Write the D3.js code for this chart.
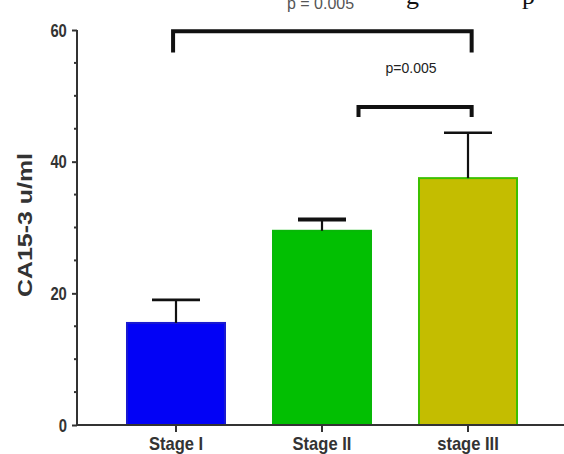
<!DOCTYPE html>
<html>
<head>
<meta charset="utf-8">
<script src="https://cdn.jsdelivr.net/npm/d3@7"></script>
<style>
  body { margin: 0; background: #fff; }
  svg { display: block; }
</style>
</head>
<body>
<svg id="chart" width="564" height="454"></svg>
<script>
// dati
var categories = ["Stage I", "Stage II", "stage III"];
var means = [15.5, 29.5, 37.5];
var errors = [3.5, 1.7, 6.9];
var barColors = ["#0202f6", "#02bf02", "#c4bd00"];
var barStrokes = ["#1a1ad0", "#08b808", "#3cc000"];
var yTicks = [0, 20, 40, 60];
var yMinorTicks = [5, 10, 15, 25, 30, 35, 45, 50, 55];

// parentesi di significativita: da, a, altezza, altezza dei bordi
var brackets = [
  { from: "Stage I", fromOff: -0.02, to: "stage III", toOff: 0.025, y: 59.8, yEnd: 56.6 },
  { from: "Stage II", fromOff: 0.25, to: "stage III", toOff: 0.025, y: 48.3, yEnd: 46.8 }
];
var pLabels = [
  { text: "p = 0.005", at: "Stage II", off: -0.01, y: 63.2, size: 16, color: "#555" },
  { text: "p=0.005", at: "stage III", off: -0.39, y: 53.4, size: 14, color: "#222" }
];

var svg = d3.select("#chart");

var x = d3.scaleBand()
  .domain(categories)
  .range([103, 541])
  .paddingInner(0.315)
  .paddingOuter(0.1575);

var y = d3.scaleLinear()
  .domain([0, 60])
  .range([425, 30]);

var cx = function (c) { return x(c) + x.bandwidth() / 2; };

// bar
svg.append("g")
  .selectAll("rect")
  .data(categories)
  .enter()
  .append("rect")
  .attr("x", function (d) { return x(d) + 1; })
  .attr("y", function (d, i) { return y(means[i]); })
  .attr("width", x.bandwidth() - 2)
  .attr("height", function (d, i) { return y(0) - y(means[i]); })
  .style("fill", function (d, i) { return barColors[i]; })
  .style("stroke", function (d, i) { return barStrokes[i]; })
  .style("stroke-width", 2);

// barre di errore (solo verso l'alto)
var err = svg.append("g").style("stroke", "#111").style("stroke-width", 2.2);
categories.forEach(function (c, i) {
  err.append("line")
    .attr("x1", cx(c)).attr("x2", cx(c))
    .attr("y1", y(means[i])).attr("y2", y(means[i] + errors[i]));
  err.append("line")
    .attr("x1", cx(c) - 24).attr("x2", cx(c) + 24)
    .attr("y1", y(means[i] + errors[i])).attr("y2", y(means[i] + errors[i]))
    .style("stroke-width", i == 1 ? 4 : 2.6);
});

// asse y
var yAxis = svg.append("g").attr("transform", "translate(77,0)");
yAxis.call(d3.axisLeft(y).tickValues(yTicks).tickSize(5).tickFormat(d3.format("d")));
yAxis.select(".domain").attr("d", "M0," + y(60) + "V" + y(0)).style("stroke", "#333").style("stroke-width", 2);
yAxis.selectAll(".tick line").style("stroke", "#333").style("stroke-width", 2);
yAxis.selectAll(".tick text")
  .attr("x", -13)
  .attr("transform", "scale(0.78,1)")
  .style("font-family", "'Liberation Sans', Arial, sans-serif")
  .style("font-weight", "bold")
  .style("font-size", "19px")
  .style("fill", "#333");
yAxis.selectAll(".minor")
  .data(yMinorTicks)
  .enter()
  .append("line")
  .attr("x1", -3).attr("x2", 0)
  .attr("y1", function (d) { return y(d); })
  .attr("y2", function (d) { return y(d); })
  .style("stroke", "#333").style("stroke-width", 2);

// asse x
var xAxis = svg.append("g").attr("transform", "translate(0," + y(0) + ")");
xAxis.call(d3.axisBottom(x).tickSize(7));
xAxis.select(".domain").attr("d", "M76,0H564").style("stroke", "#333").style("stroke-width", 2);
xAxis.selectAll(".tick line").style("stroke", "#333").style("stroke-width", 2);
xAxis.selectAll(".tick text")
  .attr("y", 25)
  .attr("dy", null)
  .attr("transform", "scale(0.92,1)")
  .style("font-family", "'Liberation Sans', Arial, sans-serif")
  .style("font-weight", "bold")
  .style("font-size", "18px")
  .style("fill", "#333");

// etichetta y
svg.append("text")
  .attr("text-anchor", "middle")
  .attr("transform", "translate(32,225)rotate(-90)")
  .attr("textLength", 144)
  .attr("lengthAdjust", "spacingAndGlyphs")
  .style("font-family", "'Liberation Sans', Arial, sans-serif")
  .style("font-weight", "bold")
  .style("font-size", "21px")
  .style("fill", "#333")
  .text("CA15-3 u/ml");

// parentesi
svg.append("g")
  .selectAll("path")
  .data(brackets)
  .enter()
  .append("path")
  .attr("d", function (b) {
    var x1 = cx(b.from) + b.fromOff * x.step(), x2 = cx(b.to) + b.toOff * x.step();
    return "M" + x1 + "," + y(b.yEnd) + "V" + y(b.y) + "H" + x2 + "V" + y(b.yEnd);
  })
  .style("fill", "none")
  .style("stroke", "#111")
  .style("stroke-width", 4);

svg.append("g")
  .selectAll("text")
  .data(pLabels)
  .enter()
  .append("text")
  .attr("x", function (d) { return cx(d.at) + d.off * x.step(); })
  .attr("y", function (d) { return y(d.y); })
  .attr("text-anchor", "middle")
  .style("font-family", "'Liberation Sans', Arial, sans-serif")
  .style("font-size", function (d) { return d.size + "px"; })
  .style("fill", function (d) { return d.color; })
  .text(function (d) { return d.text; });

// testo della pagina tagliato in alto
svg.append("text").attr("x", 406).attr("y", 4)
  .style("font-family", "'Liberation Serif', 'DejaVu Serif', serif")
  .style("font-size", "26px").style("fill", "#111").text("g");
svg.append("text").attr("x", 522).attr("y", 4)
  .style("font-family", "'Liberation Serif', 'DejaVu Serif', serif")
  .style("font-size", "26px").style("fill", "#111").text("p");
</script>
</body>
</html>
